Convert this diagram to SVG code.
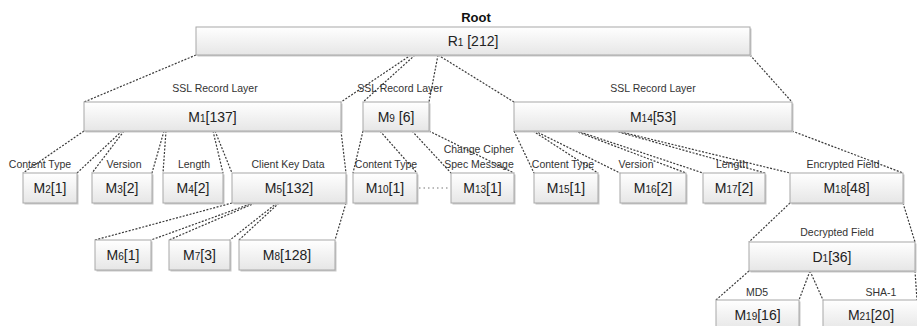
<svg xmlns="http://www.w3.org/2000/svg" width="917" height="326" viewBox="0 0 917 326">
<defs>
<linearGradient id="g" x1="0" y1="0" x2="0" y2="1">
<stop offset="0" stop-color="#ffffff"/>
<stop offset="1" stop-color="#e6e6e6"/>
</linearGradient>
</defs>
<style>
.box{fill:url(#g);stroke:#a8a8a8;stroke-width:1}
.sh{fill:#c8c8c8}
.t{font-family:"Liberation Sans",Arial,sans-serif;font-size:14px;fill:#222;text-anchor:middle}
.s{font-size:10px}
.l{font-family:"Liberation Sans",Arial,sans-serif;font-size:10.5px;fill:#333;text-anchor:middle}
.root{font-family:"Liberation Sans",Arial,sans-serif;font-size:13px;font-weight:bold;fill:#111;text-anchor:middle}
.c line{stroke:#3a3a3a;stroke-width:1.2;stroke-dasharray:2 1.5;fill:none}
.c line.dot{stroke:#777;stroke-dasharray:1.5 3}
</style>
<rect width="917" height="326" fill="#ffffff"/>
<g id="connectors" class="c">
<line x1="196" y1="55" x2="84" y2="102"/>
<line x1="411" y1="55" x2="341" y2="102"/>
<line x1="415" y1="55" x2="363" y2="102"/>
<line x1="438" y1="55" x2="429" y2="102"/>
<line x1="438" y1="55" x2="514" y2="102"/>
<line x1="750" y1="55" x2="792" y2="102"/>
<line x1="84" y1="131" x2="23" y2="173"/>
<line x1="122" y1="131" x2="77" y2="173"/>
<line x1="124" y1="131" x2="92" y2="173"/>
<line x1="164" y1="131" x2="152" y2="173"/>
<line x1="166" y1="131" x2="163" y2="173"/>
<line x1="213" y1="131" x2="223" y2="173"/>
<line x1="215" y1="131" x2="232" y2="173"/>
<line x1="341" y1="131" x2="346" y2="173"/>
<line x1="363" y1="131" x2="353" y2="173"/>
<line x1="380" y1="131" x2="417" y2="173"/>
<line x1="412" y1="131" x2="451" y2="173"/>
<line x1="429" y1="131" x2="514" y2="173"/>
<line x1="514" y1="131" x2="534" y2="173"/>
<line x1="533" y1="131" x2="598" y2="173"/>
<line x1="535" y1="131" x2="620" y2="173"/>
<line x1="575" y1="131" x2="686" y2="173"/>
<line x1="577" y1="131" x2="703" y2="173"/>
<line x1="615" y1="131" x2="765" y2="173"/>
<line x1="617" y1="131" x2="790" y2="173"/>
<line x1="792" y1="131" x2="903" y2="173"/>
<line class="dot" x1="419" y1="188" x2="450" y2="188"/>
<line x1="232" y1="203" x2="95" y2="240"/>
<line x1="253" y1="203" x2="151" y2="240"/>
<line x1="255" y1="203" x2="169" y2="240"/>
<line x1="277" y1="203" x2="230" y2="240"/>
<line x1="279" y1="203" x2="239" y2="240"/>
<line x1="346" y1="203" x2="335" y2="240"/>
<line x1="790" y1="203" x2="749" y2="242"/>
<line x1="903" y1="203" x2="915" y2="242"/>
<line x1="749" y1="271" x2="716" y2="300"/>
<line x1="810" y1="271" x2="799" y2="300"/>
<line x1="810" y1="271" x2="823" y2="300"/>
<line x1="915" y1="271" x2="917" y2="300"/>
</g>
<text class="root" x="476" y="22">Root</text>
<g id="R1"><rect class="sh" x="197.5" y="28.5" width="554" height="28"/><rect class="box" x="196" y="27" width="554" height="28"/><text class="t" x="473" y="46">R<tspan class="s">1</tspan> [212]</text></g>
<g id="M1"><text class="l" x="215" y="92">SSL Record Layer</text><rect class="sh" x="85.5" y="103.5" width="257" height="29"/><rect class="box" x="84" y="102" width="257" height="29"/><text class="t" x="212.5" y="121.5">M<tspan class="s">1</tspan>[137]</text></g>
<g id="M9"><text class="l" x="400" y="92">SSL Record Layer</text><rect class="sh" x="364.5" y="103.5" width="66" height="29"/><rect class="box" x="363" y="102" width="66" height="29"/><text class="t" x="396" y="121.5">M<tspan class="s">9</tspan> [6]</text></g>
<g id="M14"><text class="l" x="653" y="92">SSL Record Layer</text><rect class="sh" x="515.5" y="103.5" width="278" height="29"/><rect class="box" x="514" y="102" width="278" height="29"/><text class="t" x="653" y="121.5">M<tspan class="s">14</tspan>[53]</text></g>
<g id="M2"><text class="l" x="40" y="168">Content Type</text><rect class="sh" x="24.5" y="174.5" width="54" height="30"/><rect class="box" x="23" y="173" width="54" height="30"/><text class="t" x="50" y="193">M<tspan class="s">2</tspan>[1]</text></g>
<g id="M3"><text class="l" x="124" y="168">Version</text><rect class="sh" x="93.5" y="174.5" width="60" height="30"/><rect class="box" x="92" y="173" width="60" height="30"/><text class="t" x="122" y="193">M<tspan class="s">3</tspan>[2]</text></g>
<g id="M4"><text class="l" x="194" y="168">Length</text><rect class="sh" x="164.5" y="174.5" width="60" height="30"/><rect class="box" x="163" y="173" width="60" height="30"/><text class="t" x="193" y="193">M<tspan class="s">4</tspan>[2]</text></g>
<g id="M5"><text class="l" x="288" y="168">Client Key Data</text><rect class="sh" x="233.5" y="174.5" width="114" height="30"/><rect class="box" x="232" y="173" width="114" height="30"/><text class="t" x="289" y="193">M<tspan class="s">5</tspan>[132]</text></g>
<g id="M10"><text class="l" x="386" y="168">Content Type</text><rect class="sh" x="354.5" y="174.5" width="64" height="30"/><rect class="box" x="353" y="173" width="64" height="30"/><text class="t" x="385" y="193">M<tspan class="s">10</tspan>[1]</text></g>
<g id="M13"><text class="l" x="479" y="153">Change Cipher</text><text class="l" x="479" y="168">Spec Message</text><rect class="sh" x="452.5" y="174.5" width="63" height="30"/><rect class="box" x="451" y="173" width="63" height="30"/><text class="t" x="482.5" y="193">M<tspan class="s">13</tspan>[1]</text></g>
<g id="M15"><text class="l" x="563" y="168">Content Type</text><rect class="sh" x="535.5" y="174.5" width="64" height="30"/><rect class="box" x="534" y="173" width="64" height="30"/><text class="t" x="566" y="193">M<tspan class="s">15</tspan>[1]</text></g>
<g id="M16"><text class="l" x="636" y="168">Version</text><rect class="sh" x="621.5" y="174.5" width="66" height="30"/><rect class="box" x="620" y="173" width="66" height="30"/><text class="t" x="653" y="193">M<tspan class="s">16</tspan>[2]</text></g>
<g id="M17"><text class="l" x="732" y="168">Length</text><rect class="sh" x="704.5" y="174.5" width="62" height="30"/><rect class="box" x="703" y="173" width="62" height="30"/><text class="t" x="734" y="193">M<tspan class="s">17</tspan>[2]</text></g>
<g id="M18"><text class="l" x="843" y="168">Encrypted Field</text><rect class="sh" x="791.5" y="174.5" width="113" height="30"/><rect class="box" x="790" y="173" width="113" height="30"/><text class="t" x="846.5" y="193">M<tspan class="s">18</tspan>[48]</text></g>
<g id="M6"><rect class="sh" x="96.5" y="241.5" width="56" height="30"/><rect class="box" x="95" y="240" width="56" height="30"/><text class="t" x="123" y="260">M<tspan class="s">6</tspan>[1]</text></g>
<g id="M7"><rect class="sh" x="170.5" y="241.5" width="61" height="30"/><rect class="box" x="169" y="240" width="61" height="30"/><text class="t" x="199.5" y="260">M<tspan class="s">7</tspan>[3]</text></g>
<g id="M8"><rect class="sh" x="240.5" y="241.5" width="96" height="30"/><rect class="box" x="239" y="240" width="96" height="30"/><text class="t" x="287" y="260">M<tspan class="s">8</tspan>[128]</text></g>
<g id="D1"><text class="l" x="837" y="236">Decrypted Field</text><rect class="sh" x="750.5" y="243.5" width="166" height="29"/><rect class="box" x="749" y="242" width="166" height="29"/><text class="t" x="832" y="261.5">D<tspan class="s">1</tspan>[36]</text></g>
<g id="M19"><text class="l" x="757" y="296">MD5</text><rect class="sh" x="717.5" y="301.5" width="83" height="30"/><rect class="box" x="716" y="300" width="83" height="30"/><text class="t" x="757.5" y="320">M<tspan class="s">19</tspan>[16]</text></g>
<g id="M21"><text class="l" x="881" y="296">SHA-1</text><rect class="sh" x="824.5" y="301.5" width="96" height="30"/><rect class="box" x="823" y="300" width="96" height="30"/><text class="t" x="871" y="320">M<tspan class="s">21</tspan>[20]</text></g>
</svg>
